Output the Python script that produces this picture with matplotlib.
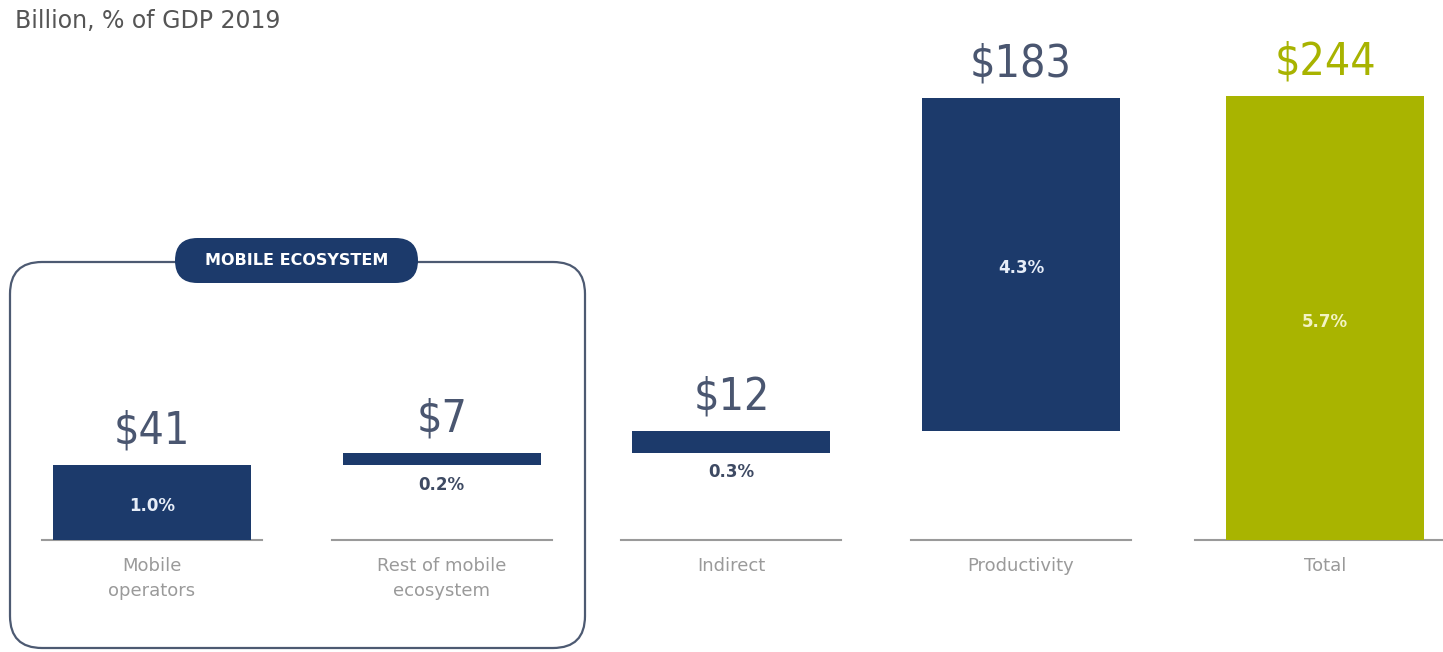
"""Waterfall of mobile economic contribution, billion USD and % of GDP 2019."""

import matplotlib.pyplot as plt
from matplotlib.patches import FancyBboxPatch

categories = ["Mobile\noperators", "Rest of mobile\necosystem", "Indirect", "Productivity", "Total"]
values = [41, 7, 12, 183, 244]
value_labels = ["$41", "$7", "$12", "$183", "$244"]
gdp_share = ["1.0%", "0.2%", "0.3%", "4.3%", "5.7%"]

NAVY = "#1c3a6b"
OLIVE = "#a9b400"
GREY_LINE = "#9a9a9a"

# waterfall bottoms: contributions stack, the total starts from zero
bottoms = []
running = 0
for value in values[:-1]:
    bottoms.append(running)
    running += value
bottoms.append(0)

x_pos = [0, 1, 2, 3, 4.05]
bar_colors = [NAVY, NAVY, NAVY, NAVY, OLIVE]

fig = plt.figure(figsize=(14.43, 6.52), dpi=100)
ax = fig.add_axes([0, 0, 1, 1])
px_per_unit = 1.82
ax.set_ylim(-112 / px_per_unit, 540 / px_per_unit)
ax.set_xlim(-152 / 289.7, (1443 - 152) / 289.7)
ax.axis("off")

ax.bar(x_pos, values, bottom=bottoms, width=0.683, color=bar_colors, zorder=3)

# separate baseline under each category
left_ext = [0.38, 0.38, 0.38, 0.38, 0.45]
right_ext = [0.38, 0.38, 0.38, 0.38, 0.45]
for x, le, re in zip(x_pos, left_ext, right_ext):
    ax.plot([x - le, x + re], [0, 0], color=GREY_LINE, lw=1.5, zorder=2)

for i, (x, v, b) in enumerate(zip(x_pos, values, bottoms)):
    top = b + v
    label_color = "#a8b300" if i == len(values) - 1 else "#4a5670"
    ax.annotate(value_labels[i], (x, top), xytext=(0, 9), textcoords="offset points",
                ha="center", va="bottom", fontsize=32, color=label_color,
                family="DejaVu Sans", fontstretch="condensed", fontweight="light")
    if v > 30:
        pct_color = "#f3f3c4" if i == len(values) - 1 else "#e6edf8"
        ax.text(x, b + v / 2 - 2, gdp_share[i], ha="center", va="center",
                fontsize=12, fontweight="bold", color=pct_color)
    else:
        ax.annotate(gdp_share[i], (x, b), xytext=(0, -14), textcoords="offset points",
                    ha="center", va="center", fontsize=12, fontweight="bold",
                    color="#3e4a63")
    ax.annotate(categories[i], (x, 0), xytext=(0, -12), textcoords="offset points",
                ha="center", va="top", fontsize=13, color="#9a9a9a",
                linespacing=1.55)

# mobile ecosystem frame and its pill label (inch coordinates)
frame = FancyBboxPatch((0.10, 0.04), 5.75, 3.86,
                       boxstyle="round,pad=0,rounding_size=0.32",
                       transform=fig.dpi_scale_trans, facecolor="none",
                       edgecolor="#4d5a72", lw=1.6, zorder=1)
fig.patches.append(frame)
pill = FancyBboxPatch((1.75, 3.69), 2.43, 0.45,
                      boxstyle="round,pad=0,rounding_size=0.225",
                      transform=fig.dpi_scale_trans, facecolor=NAVY,
                      edgecolor="none", zorder=2)
fig.patches.append(pill)
fig.text(2.965 / 14.43, 3.915 / 6.52, "MOBILE ECOSYSTEM", ha="center", va="center",
         fontsize=11.5, fontweight="bold", color="white", zorder=3)

fig.text(15 / 1443, 1 - 21 / 652, "Billion, % of GDP 2019", ha="left", va="center",
         fontsize=17, color="#555555")

fig.savefig("out.png", dpi=100, facecolor="white")
